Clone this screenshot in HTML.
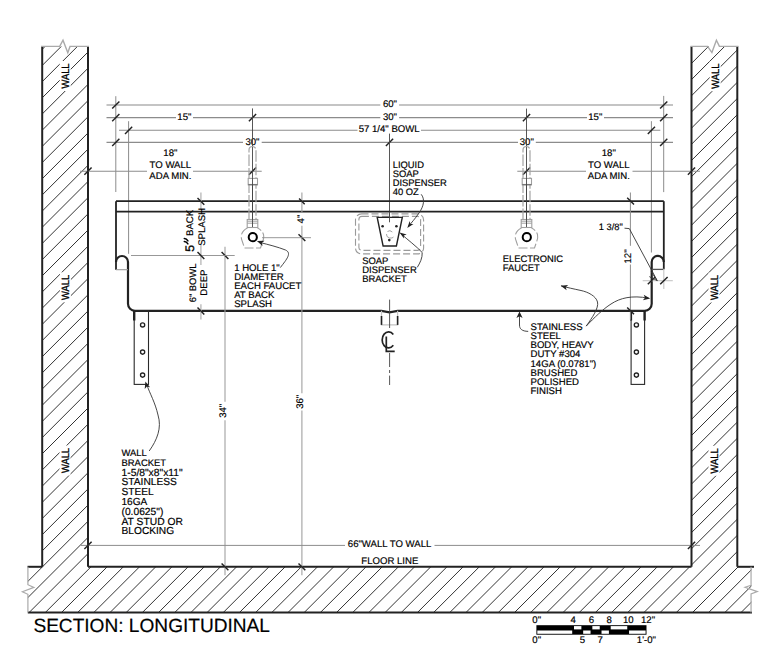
<!DOCTYPE html>
<html><head><meta charset="utf-8"><style>
html,body{margin:0;padding:0;background:#fff;}
svg{display:block;}
text{font-family:"Liberation Sans",sans-serif;text-rendering:geometricPrecision;fill:#000;stroke:#000;stroke-width:0.18px;}
</style></head><body>
<svg width="770" height="652" viewBox="0 0 770 652">
<rect width="770" height="652" fill="#fff"/>
<clipPath id="hc"><polygon points="42.2,46.4 88,46.4 88,566.8 691.5,566.8 691.5,46.4 737.3,46.4 737.3,566.8 751.5,566.8 751.5,612.2 27.8,612.2 27.8,566.8 42.2,566.8"/></clipPath>
<g clip-path="url(#hc)" stroke="#333" stroke-width="1">
<line x1="-689.40" y1="700" x2="10.60" y2="0"/>
<line x1="-673.22" y1="700" x2="26.78" y2="0"/>
<line x1="-657.04" y1="700" x2="42.96" y2="0"/>
<line x1="-640.86" y1="700" x2="59.14" y2="0"/>
<line x1="-624.68" y1="700" x2="75.32" y2="0"/>
<line x1="-608.50" y1="700" x2="91.50" y2="0"/>
<line x1="-592.32" y1="700" x2="107.68" y2="0"/>
<line x1="-576.14" y1="700" x2="123.86" y2="0"/>
<line x1="-559.96" y1="700" x2="140.04" y2="0"/>
<line x1="-543.78" y1="700" x2="156.22" y2="0"/>
<line x1="-527.60" y1="700" x2="172.40" y2="0"/>
<line x1="-511.42" y1="700" x2="188.58" y2="0"/>
<line x1="-495.24" y1="700" x2="204.76" y2="0"/>
<line x1="-479.06" y1="700" x2="220.94" y2="0"/>
<line x1="-462.88" y1="700" x2="237.12" y2="0"/>
<line x1="-446.70" y1="700" x2="253.30" y2="0"/>
<line x1="-430.52" y1="700" x2="269.48" y2="0"/>
<line x1="-414.34" y1="700" x2="285.66" y2="0"/>
<line x1="-398.16" y1="700" x2="301.84" y2="0"/>
<line x1="-381.98" y1="700" x2="318.02" y2="0"/>
<line x1="-365.80" y1="700" x2="334.20" y2="0"/>
<line x1="-349.62" y1="700" x2="350.38" y2="0"/>
<line x1="-333.44" y1="700" x2="366.56" y2="0"/>
<line x1="-317.26" y1="700" x2="382.74" y2="0"/>
<line x1="-301.08" y1="700" x2="398.92" y2="0"/>
<line x1="-284.90" y1="700" x2="415.10" y2="0"/>
<line x1="-268.72" y1="700" x2="431.28" y2="0"/>
<line x1="-252.54" y1="700" x2="447.46" y2="0"/>
<line x1="-236.36" y1="700" x2="463.64" y2="0"/>
<line x1="-220.18" y1="700" x2="479.82" y2="0"/>
<line x1="-204.00" y1="700" x2="496.00" y2="0"/>
<line x1="-187.82" y1="700" x2="512.18" y2="0"/>
<line x1="-171.64" y1="700" x2="528.36" y2="0"/>
<line x1="-155.46" y1="700" x2="544.54" y2="0"/>
<line x1="-139.28" y1="700" x2="560.72" y2="0"/>
<line x1="-123.10" y1="700" x2="576.90" y2="0"/>
<line x1="-106.92" y1="700" x2="593.08" y2="0"/>
<line x1="-90.74" y1="700" x2="609.26" y2="0"/>
<line x1="-74.56" y1="700" x2="625.44" y2="0"/>
<line x1="-58.38" y1="700" x2="641.62" y2="0"/>
<line x1="-42.20" y1="700" x2="657.80" y2="0"/>
<line x1="-26.02" y1="700" x2="673.98" y2="0"/>
<line x1="-9.84" y1="700" x2="690.16" y2="0"/>
<line x1="6.34" y1="700" x2="706.34" y2="0"/>
<line x1="22.52" y1="700" x2="722.52" y2="0"/>
<line x1="38.70" y1="700" x2="738.70" y2="0"/>
<line x1="54.88" y1="700" x2="754.88" y2="0"/>
<line x1="71.06" y1="700" x2="771.06" y2="0"/>
<line x1="87.24" y1="700" x2="787.24" y2="0"/>
<line x1="103.42" y1="700" x2="803.42" y2="0"/>
<line x1="119.60" y1="700" x2="819.60" y2="0"/>
<line x1="135.78" y1="700" x2="835.78" y2="0"/>
<line x1="151.96" y1="700" x2="851.96" y2="0"/>
<line x1="168.14" y1="700" x2="868.14" y2="0"/>
<line x1="184.32" y1="700" x2="884.32" y2="0"/>
<line x1="200.50" y1="700" x2="900.50" y2="0"/>
<line x1="216.68" y1="700" x2="916.68" y2="0"/>
<line x1="232.86" y1="700" x2="932.86" y2="0"/>
<line x1="249.04" y1="700" x2="949.04" y2="0"/>
<line x1="265.22" y1="700" x2="965.22" y2="0"/>
<line x1="281.40" y1="700" x2="981.40" y2="0"/>
<line x1="297.58" y1="700" x2="997.58" y2="0"/>
<line x1="313.76" y1="700" x2="1013.76" y2="0"/>
<line x1="329.94" y1="700" x2="1029.94" y2="0"/>
<line x1="346.12" y1="700" x2="1046.12" y2="0"/>
<line x1="362.30" y1="700" x2="1062.30" y2="0"/>
<line x1="378.48" y1="700" x2="1078.48" y2="0"/>
<line x1="394.66" y1="700" x2="1094.66" y2="0"/>
<line x1="410.84" y1="700" x2="1110.84" y2="0"/>
<line x1="427.02" y1="700" x2="1127.02" y2="0"/>
<line x1="443.20" y1="700" x2="1143.20" y2="0"/>
<line x1="459.38" y1="700" x2="1159.38" y2="0"/>
<line x1="475.56" y1="700" x2="1175.56" y2="0"/>
<line x1="491.74" y1="700" x2="1191.74" y2="0"/>
<line x1="507.92" y1="700" x2="1207.92" y2="0"/>
<line x1="524.10" y1="700" x2="1224.10" y2="0"/>
<line x1="540.28" y1="700" x2="1240.28" y2="0"/>
<line x1="556.46" y1="700" x2="1256.46" y2="0"/>
<line x1="572.64" y1="700" x2="1272.64" y2="0"/>
<line x1="588.82" y1="700" x2="1288.82" y2="0"/>
<line x1="605.00" y1="700" x2="1305.00" y2="0"/>
<line x1="621.18" y1="700" x2="1321.18" y2="0"/>
<line x1="637.36" y1="700" x2="1337.36" y2="0"/>
<line x1="653.54" y1="700" x2="1353.54" y2="0"/>
<line x1="669.72" y1="700" x2="1369.72" y2="0"/>
<line x1="685.90" y1="700" x2="1385.90" y2="0"/>
</g>
<rect x="59.69999999999999" y="61.0" width="11" height="30" fill="#fff"/>
<text transform="translate(65.19999999999999,76) rotate(-90) scale(1,1.13)" x="0" y="3.384" font-size="9.4" text-anchor="middle" style="stroke-width:0.25px">WALL</text>
<rect x="59.89999999999999" y="272.3" width="11" height="30" fill="#fff"/>
<text transform="translate(65.39999999999999,287.3) rotate(-90) scale(1,1.13)" x="0" y="3.384" font-size="9.4" text-anchor="middle" style="stroke-width:0.25px">WALL</text>
<rect x="59.5" y="445.5" width="11" height="30" fill="#fff"/>
<text transform="translate(65.0,460.5) rotate(-90) scale(1,1.13)" x="0" y="3.384" font-size="9.4" text-anchor="middle" style="stroke-width:0.25px">WALL</text>
<rect x="709.7" y="61.2" width="11" height="30" fill="#fff"/>
<text transform="translate(715.2,76.2) rotate(-90) scale(1,1.13)" x="0" y="3.384" font-size="9.4" text-anchor="middle" style="stroke-width:0.25px">WALL</text>
<rect x="708.5" y="272.5" width="11" height="30" fill="#fff"/>
<text transform="translate(714.0,287.5) rotate(-90) scale(1,1.13)" x="0" y="3.384" font-size="9.4" text-anchor="middle" style="stroke-width:0.25px">WALL</text>
<rect x="708.5" y="445.8" width="11" height="30" fill="#fff"/>
<text transform="translate(714.0,460.8) rotate(-90) scale(1,1.13)" x="0" y="3.384" font-size="9.4" text-anchor="middle" style="stroke-width:0.25px">WALL</text>
<line x1="42.2" y1="46.4" x2="42.2" y2="566.8" stroke="#222" stroke-width="2" />
<line x1="88" y1="46.4" x2="88" y2="566.8" stroke="#222" stroke-width="2" />
<line x1="691.5" y1="46.4" x2="691.5" y2="566.8" stroke="#222" stroke-width="2" />
<line x1="737.3" y1="46.4" x2="737.3" y2="566.8" stroke="#222" stroke-width="2" />
<polyline points="41,46.4 59.7,46.4 63,40.2 67.8,52.8 70,46.4 89,46.4" fill="none" stroke="#aaa" stroke-width="1.4"/>
<polyline points="690.5,46.4 707.6,46.4 711.9,52.6 716.4,40.2 719.4,46.4 738.5,46.4" fill="none" stroke="#aaa" stroke-width="1.4"/>
<line x1="27.5" y1="566.8" x2="42.2" y2="566.8" stroke="#222" stroke-width="2" />
<line x1="88" y1="566.8" x2="691.5" y2="566.8" stroke="#222" stroke-width="2" />
<line x1="737.3" y1="566.8" x2="754" y2="566.8" stroke="#222" stroke-width="2" />
<line x1="27.8" y1="612.5" x2="752" y2="612.5" stroke="#222" stroke-width="1.9" />
<polyline points="27.9,566.8 27.9,584.7 33.9,587.4 22.4,591.8 27.9,594.3 27.9,612.5" fill="none" stroke="#aaa" stroke-width="1.2"/>
<polyline points="751.05,566.8 751.05,585.4 745.1,587.2 757.3,591.6 751.05,593.9 751.05,612.5" fill="none" stroke="#aaa" stroke-width="1.2"/>
<line x1="115.8" y1="96.2" x2="115.8" y2="192" stroke="#8c8c8c" stroke-width="1" />
<line x1="128.6" y1="121.2" x2="128.6" y2="253.8" stroke="#8c8c8c" stroke-width="1" />
<line x1="663.7" y1="95.9" x2="663.7" y2="192.1" stroke="#8c8c8c" stroke-width="1" />
<line x1="651.4" y1="121.2" x2="651.4" y2="252.5" stroke="#8c8c8c" stroke-width="1" />
<line x1="106.5" y1="105" x2="380.3" y2="105" stroke="#c4c4c4" stroke-width="2" />
<line x1="399.1" y1="105" x2="673" y2="105" stroke="#c4c4c4" stroke-width="2" />
<line x1="112.2" y1="108.6" x2="119.39999999999999" y2="101.4" stroke="#222" stroke-width="1.45" />
<line x1="660.1" y1="108.6" x2="667.3000000000001" y2="101.4" stroke="#222" stroke-width="1.45" />
<text x="390" y="106.6" font-size="9.6" text-anchor="middle" >60&quot;</text>
<line x1="106.5" y1="117.6" x2="176" y2="117.6" stroke="#8c8c8c" stroke-width="1.1" />
<line x1="193" y1="117.6" x2="380.3" y2="117.6" stroke="#8c8c8c" stroke-width="1.1" />
<line x1="399.1" y1="117.6" x2="587" y2="117.6" stroke="#8c8c8c" stroke-width="1.1" />
<line x1="604" y1="117.6" x2="673" y2="117.6" stroke="#8c8c8c" stroke-width="1.1" />
<line x1="112.2" y1="121.19999999999999" x2="119.39999999999999" y2="114.0" stroke="#222" stroke-width="1.45" />
<line x1="248.9" y1="121.19999999999999" x2="256.1" y2="114.0" stroke="#222" stroke-width="1.45" />
<line x1="522.9" y1="121.19999999999999" x2="530.1" y2="114.0" stroke="#222" stroke-width="1.45" />
<line x1="660.1" y1="121.19999999999999" x2="667.3000000000001" y2="114.0" stroke="#222" stroke-width="1.45" />
<text x="184.4" y="119.9" font-size="9.6" text-anchor="middle" >15&quot;</text>
<text x="390" y="119.9" font-size="9.6" text-anchor="middle" >30&quot;</text>
<text x="595.3" y="119.9" font-size="9.6" text-anchor="middle" >15&quot;</text>
<line x1="119" y1="130.3" x2="357.5" y2="130.3" stroke="#8c8c8c" stroke-width="1.1" />
<line x1="421" y1="130.3" x2="660.3" y2="130.3" stroke="#8c8c8c" stroke-width="1.1" />
<line x1="125.0" y1="133.9" x2="132.2" y2="126.70000000000002" stroke="#222" stroke-width="1.45" />
<line x1="647.8" y1="133.9" x2="655.0" y2="126.70000000000002" stroke="#222" stroke-width="1.45" />
<text x="389.2" y="131.6" font-size="9.6" text-anchor="middle" >57 1/4&quot; BOWL</text>
<line x1="106.5" y1="142.4" x2="243" y2="142.4" stroke="#8c8c8c" stroke-width="1.1" />
<line x1="261.7" y1="142.4" x2="518" y2="142.4" stroke="#8c8c8c" stroke-width="1.1" />
<line x1="535.8" y1="142.4" x2="673" y2="142.4" stroke="#8c8c8c" stroke-width="1.1" />
<line x1="112.2" y1="146.0" x2="119.39999999999999" y2="138.8" stroke="#222" stroke-width="1.45" />
<line x1="385.9" y1="146.0" x2="393.1" y2="138.8" stroke="#222" stroke-width="1.45" />
<line x1="660.1" y1="146.0" x2="667.3000000000001" y2="138.8" stroke="#222" stroke-width="1.45" />
<text x="252.5" y="144.5" font-size="9.6" text-anchor="middle" >30&quot;</text>
<text x="526.8" y="144.5" font-size="9.6" text-anchor="middle" >30&quot;</text>
<line x1="80" y1="171.2" x2="147" y2="171.2" stroke="#8c8c8c" stroke-width="1.1" />
<line x1="193" y1="171.2" x2="261.7" y2="171.2" stroke="#8c8c8c" stroke-width="1.1" />
<line x1="84.4" y1="174.79999999999998" x2="91.6" y2="167.6" stroke="#222" stroke-width="1.45" />
<line x1="248.9" y1="174.79999999999998" x2="256.1" y2="167.6" stroke="#222" stroke-width="1.45" />
<line x1="517.3" y1="171.2" x2="586" y2="171.2" stroke="#8c8c8c" stroke-width="1.1" />
<line x1="632.5" y1="171.2" x2="700" y2="171.2" stroke="#8c8c8c" stroke-width="1.1" />
<line x1="522.9" y1="174.79999999999998" x2="530.1" y2="167.6" stroke="#222" stroke-width="1.45" />
<line x1="687.9" y1="174.79999999999998" x2="695.1" y2="167.6" stroke="#222" stroke-width="1.45" />
<text x="170.4" y="155.6" font-size="9.6" text-anchor="middle" >18&quot;</text>
<text x="170.4" y="167.6" font-size="9.6" text-anchor="middle" >TO WALL</text>
<text x="170.4" y="178.7" font-size="9.6" text-anchor="middle" >ADA MIN.</text>
<text x="608.8" y="155.6" font-size="9.6" text-anchor="middle" >18&quot;</text>
<text x="608.8" y="167.6" font-size="9.6" text-anchor="middle" >TO WALL</text>
<text x="608.8" y="178.7" font-size="9.6" text-anchor="middle" >ADA MIN.</text>
<line x1="252.5" y1="108.4" x2="252.5" y2="227" stroke="#444" stroke-width="0.9" />
<line x1="526.5" y1="108.6" x2="526.5" y2="227.3" stroke="#444" stroke-width="0.9" />
<line x1="389.5" y1="133.6" x2="389.5" y2="222.3" stroke="#444" stroke-width="0.9" />
<line x1="116" y1="201.2" x2="663.8" y2="201.2" stroke="#222" stroke-width="1.8" />
<line x1="116" y1="211.6" x2="663.8" y2="211.6" stroke="#222" stroke-width="1.8" />
<path d="M116,201.2 L116,269.7" stroke="#222" stroke-width="1.8" fill="none"/>
<path d="M663.8,201.2 L663.8,269.3" stroke="#222" stroke-width="1.8" fill="none"/>
<path d="M116,262 A6,6 0 0 1 128,262 L128,303.8 A7,7 0 0 0 135,310.8 L381.5,310.8 L389.5,312.3 L397.6,310.8 L644.7,310.8 A7,7 0 0 0 651.7,303.8 L651.7,262 A6,6 0 0 1 663.8,262" stroke="#222" stroke-width="2.2" fill="none"/>
<line x1="116" y1="269.7" x2="128" y2="269.7" stroke="#999" stroke-width="1.1" />
<line x1="651.7" y1="269.4" x2="663.8" y2="269.4" stroke="#555" stroke-width="1.3" />
<path d="M381.5,310.8 L381.5,324.9 L397.6,324.9 L397.6,310.8" stroke="#c4c4c4" stroke-width="1.2" fill="none"/>
<line x1="381.5" y1="316" x2="381.5" y2="324.9" stroke="#222" stroke-width="1.6" />
<line x1="397.6" y1="316" x2="397.6" y2="324.9" stroke="#222" stroke-width="1.6" />
<rect x="134.2" y="310.8" width="14.300000000000011" height="73.6" fill="none" stroke="#2a2a2a" stroke-width="1.1"/>
<line x1="134.2" y1="311" x2="134.2" y2="320.5" stroke="#222" stroke-width="2.4" />
<circle cx="142.6" cy="324.9" r="2.1" fill="none" stroke="#222" stroke-width="1.35"/>
<circle cx="142.6" cy="352.1" r="2.1" fill="none" stroke="#222" stroke-width="1.35"/>
<circle cx="142.6" cy="375.1" r="2.1" fill="none" stroke="#222" stroke-width="1.35"/>
<rect x="631.1" y="310.8" width="13.5" height="73.6" fill="none" stroke="#2a2a2a" stroke-width="1.1"/>
<line x1="644.6" y1="311" x2="644.6" y2="320.5" stroke="#222" stroke-width="2.4" />
<circle cx="636.4" cy="324.9" r="2.1" fill="none" stroke="#222" stroke-width="1.35"/>
<circle cx="636.4" cy="352.1" r="2.1" fill="none" stroke="#222" stroke-width="1.35"/>
<circle cx="636.4" cy="375.1" r="2.1" fill="none" stroke="#222" stroke-width="1.35"/>
<line x1="631.1" y1="311" x2="631.1" y2="320.5" stroke="#222" stroke-width="2.0" />
<line x1="389.6" y1="299.6" x2="389.6" y2="328" stroke="#444" stroke-width="0.9"/>
<line x1="389.6" y1="353" x2="389.6" y2="367" stroke="#444" stroke-width="0.9"/>
<line x1="389.6" y1="370" x2="389.6" y2="373" stroke="#444" stroke-width="0.9"/>
<line x1="389.6" y1="375.6" x2="389.6" y2="385" stroke="#444" stroke-width="0.9"/>
<path d="M393.3,334.5 A6.4,8 0 1 0 393.3,345.3" stroke="#222" stroke-width="1.7" fill="none"/>
<path d="M386.3,336.5 L386.3,351.3 L394.7,351.3" stroke="#222" stroke-width="1.7" fill="none"/>
<path d="M249.0,220 L249.0,150 A3.5,3.5 0 0 1 256.0,150 L256.0,220" stroke="#a4a4a4" stroke-width="1.2" fill="none" stroke-dasharray="11.5,2"/>
<rect x="248.2" y="178.4" width="9.3" height="6.4" fill="#fff" stroke="#a0a0a0" stroke-width="1.1"/>
<line x1="248.2" y1="184.6" x2="257.5" y2="184.6" stroke="#777" stroke-width="1.3" />
<rect x="247.2" y="219.5" width="10.6" height="8" fill="#fff" stroke="#a0a0a0" stroke-width="1.1"/>
<line x1="247.2" y1="221.2" x2="257.8" y2="221.2" stroke="#a0a0a0" stroke-width="1" />
<line x1="247.2" y1="223.2" x2="257.8" y2="223.2" stroke="#a0a0a0" stroke-width="1" />
<line x1="252.5" y1="178" x2="252.5" y2="227" stroke="#444" stroke-width="0.9" />
<path d="M247.5,228 Q243.0,230 241.5,234.5 Q240.9,238 242.0,240.5 L244.5,248 L260.5,248 L263.0,240.5 Q264.1,238 263.5,234.5 Q262.0,230 257.5,228" stroke="#a0a0a0" stroke-width="1.1" fill="none" stroke-dasharray="9,2.5"/>
<circle cx="252.8" cy="237.2" r="4.1" fill="#fff" stroke="#000" stroke-width="2.0"/>
<path d="M523.0,220 L523.0,150 A3.5,3.5 0 0 1 530.0,150 L530.0,220" stroke="#a4a4a4" stroke-width="1.2" fill="none" stroke-dasharray="11.5,2"/>
<rect x="522.2" y="178.4" width="9.3" height="6.4" fill="#fff" stroke="#a0a0a0" stroke-width="1.1"/>
<line x1="522.2" y1="184.6" x2="531.5" y2="184.6" stroke="#777" stroke-width="1.3" />
<rect x="521.2" y="219.5" width="10.6" height="8" fill="#fff" stroke="#a0a0a0" stroke-width="1.1"/>
<line x1="521.2" y1="221.2" x2="531.8" y2="221.2" stroke="#a0a0a0" stroke-width="1" />
<line x1="521.2" y1="223.2" x2="531.8" y2="223.2" stroke="#a0a0a0" stroke-width="1" />
<line x1="526.5" y1="178" x2="526.5" y2="227" stroke="#444" stroke-width="0.9" />
<path d="M521.5,228 Q517.0,230 515.5,234.5 Q514.9,238 516.0,240.5 L518.5,248 L534.5,248 L537.0,240.5 Q538.1,238 537.5,234.5 Q536.0,230 531.5,228" stroke="#a0a0a0" stroke-width="1.1" fill="none" stroke-dasharray="9,2.5"/>
<circle cx="526.8" cy="237.2" r="4.1" fill="#fff" stroke="#000" stroke-width="2.0"/>
<line x1="301.9" y1="192.5" x2="301.9" y2="212.3" stroke="#a0a0a0" stroke-width="1.1" />
<line x1="301.9" y1="225.7" x2="301.9" y2="393.2" stroke="#a0a0a0" stroke-width="1.1" />
<line x1="301.9" y1="410.4" x2="301.9" y2="575.3" stroke="#a0a0a0" stroke-width="1.1" />
<line x1="299.09999999999997" y1="198.6" x2="304.7" y2="204.20000000000002" stroke="#222" stroke-width="1.45" />
<line x1="298.5" y1="234.29999999999998" x2="305.29999999999995" y2="241.1" stroke="#222" stroke-width="1.45" />
<line x1="298.5" y1="563.4" x2="305.29999999999995" y2="570.1999999999999" stroke="#222" stroke-width="1.45" />
<line x1="262" y1="237.7" x2="311" y2="237.7" stroke="#8c8c8c" stroke-width="0.9" />
<text transform="translate(300.1,219) rotate(-90)" x="0" y="3.456" font-size="9.6" text-anchor="middle" style="">4&quot;</text>
<text transform="translate(299.6,401.8) rotate(-90)" x="0" y="3.456" font-size="9.6" text-anchor="middle" style="">36&quot;</text>
<line x1="225" y1="246.8" x2="225" y2="401.8" stroke="#a0a0a0" stroke-width="1.1" />
<line x1="225" y1="420.2" x2="225" y2="575.3" stroke="#a0a0a0" stroke-width="1.1" />
<line x1="221.6" y1="252.1" x2="228.4" y2="258.9" stroke="#222" stroke-width="1.45" />
<line x1="221.6" y1="563.4" x2="228.4" y2="570.1999999999999" stroke="#222" stroke-width="1.45" />
<text transform="translate(222.5,410.8) rotate(-90)" x="0" y="3.456" font-size="9.6" text-anchor="middle" style="">34&quot;</text>
<line x1="131" y1="255.5" x2="234.7" y2="255.5" stroke="#8c8c8c" stroke-width="0.9" />
<line x1="200.9" y1="192.5" x2="200.9" y2="209" stroke="#c4c4c4" stroke-width="1.6" />
<line x1="200.9" y1="245" x2="200.9" y2="265" stroke="#c4c4c4" stroke-width="1.6" />
<line x1="200.9" y1="304.2" x2="200.9" y2="319.6" stroke="#c4c4c4" stroke-width="1.6" />
<line x1="197.5" y1="198.0" x2="204.3" y2="204.8" stroke="#222" stroke-width="1.45" />
<line x1="197.5" y1="252.1" x2="204.3" y2="258.9" stroke="#222" stroke-width="1.45" />
<line x1="197.5" y1="307.6" x2="204.3" y2="314.4" stroke="#222" stroke-width="1.45" />
<text transform="translate(189.2,222.9) rotate(-90)" x="0" y="3.456" font-size="9.6" text-anchor="middle" style="">BACK</text>
<text transform="translate(202,226.9) rotate(-90)" x="0" y="3.456" font-size="9.6" text-anchor="middle" style="">SPLASH</text>
<g transform="translate(194.2,251.3) rotate(-90)"><text x="-0.5" y="0" font-size="12.4" style="stroke-width:0.35px">5</text></g>
<path d="M184.3,238.6 Q186.6,238.7 187.9,240.9 M184.3,241.6 Q186.6,241.8 187.9,243.9" stroke="#000" stroke-width="1.5" stroke-linecap="round" fill="none"/>
<text transform="translate(192.7,282.9) rotate(-90)" x="0" y="3.384" font-size="9.4" text-anchor="middle" style="">6&quot; BOWL</text>
<text transform="translate(204,282.6) rotate(-90)" x="0" y="3.456" font-size="9.6" text-anchor="middle" style="">DEEP</text>
<line x1="630.4" y1="192.5" x2="630.4" y2="245.8" stroke="#8c8c8c" stroke-width="1" />
<line x1="630.4" y1="264.5" x2="630.4" y2="319.8" stroke="#8c8c8c" stroke-width="1" />
<line x1="627.2" y1="197.7" x2="634.0" y2="204.5" stroke="#222" stroke-width="1.45" />
<line x1="627.2" y1="307.40000000000003" x2="634.0" y2="314.2" stroke="#222" stroke-width="1.45" />
<text transform="translate(627.9,256.5) rotate(-90)" x="0" y="3.456" font-size="9.6" text-anchor="middle" style="">12&quot;</text>
<line x1="642.7" y1="280.7" x2="672.8" y2="280.7" stroke="#c4c4c4" stroke-width="1.1" />
<line x1="663.8" y1="268.8" x2="663.8" y2="288.9" stroke="#c4c4c4" stroke-width="1.1" />
<line x1="647.8" y1="284.3" x2="655.2" y2="276.90000000000003" stroke="#222" stroke-width="1.45" />
<line x1="660.1999999999999" y1="284.3" x2="667.6" y2="276.90000000000003" stroke="#222" stroke-width="1.45" />
<text x="598.8" y="230.1" font-size="9.3" text-anchor="start" >1 3/8&quot;</text>
<line x1="81" y1="545.4" x2="345" y2="545.4" stroke="#8c8c8c" stroke-width="1" />
<line x1="434.5" y1="545.4" x2="700" y2="545.4" stroke="#8c8c8c" stroke-width="1" />
<line x1="84.4" y1="549.0" x2="91.6" y2="541.8" stroke="#222" stroke-width="1.45" />
<line x1="687.9" y1="549.0" x2="695.1" y2="541.8" stroke="#222" stroke-width="1.45" />
<text x="389.6" y="546.8" font-size="9.6" text-anchor="middle" >66&quot;WALL TO WALL</text>
<text x="389.8" y="564.3" font-size="9.6" text-anchor="middle" >FLOOR LINE</text>
<rect x="355.5" y="213.9" width="68.1" height="40" rx="6" fill="none" stroke="#9a9a9a" stroke-width="1.1" stroke-dasharray="7,3"/>
<rect x="358.9" y="216.4" width="61.7" height="34" rx="3" fill="none" stroke="#9a9a9a" stroke-width="1.1" stroke-dasharray="7,3"/>
<path d="M377.2,217.4 L402.3,217.4 L396.4,246 L383.1,246 Z" fill="#fff" stroke="#222" stroke-width="1.4"/>
<circle cx="382.6" cy="226.3" r="1.3" fill="#222"/>
<circle cx="396.4" cy="226.3" r="1.3" fill="#222"/>
<circle cx="389.3" cy="240.1" r="1.3" fill="#222"/>
<path d="M387.5,231.5 Q390,229.5 392.3,232 M386.5,234 Q386,237 389.5,238 Q392.5,238.5 393.5,237" stroke="#999" stroke-width="0.9" fill="none"/>
<line x1="389.5" y1="211.6" x2="389.5" y2="222.3" stroke="#444" stroke-width="0.9" />
<text x="392.7" y="168.1" font-size="9.4" text-anchor="start" >LIQUID</text>
<text x="392.7" y="177.0" font-size="9.4" text-anchor="start" >SOAP</text>
<text x="392.7" y="185.9" font-size="9.4" text-anchor="start" >DISPENSER</text>
<text x="392.7" y="194.8" font-size="9.4" text-anchor="start" >40 OZ</text>
<text x="362.2" y="264.0" font-size="9.45" text-anchor="start" >SOAP</text>
<text x="362.2" y="273.05" font-size="9.45" text-anchor="start" >DISPENSER</text>
<text x="362.2" y="282.1" font-size="9.45" text-anchor="start" >BRACKET</text>
<text x="234.2" y="270.9" font-size="9.6" text-anchor="start" >1 HOLE 1&quot;</text>
<text x="234.2" y="280.0" font-size="9.6" text-anchor="start" >DIAMETER</text>
<text x="234.2" y="289.1" font-size="9.6" text-anchor="start" >EACH FAUCET</text>
<text x="234.2" y="298.2" font-size="9.6" text-anchor="start" >AT BACK</text>
<text x="234.2" y="307.3" font-size="9.6" text-anchor="start" >SPLASH</text>
<text x="502.7" y="262.1" font-size="9.4" text-anchor="start" >ELECTRONIC</text>
<text x="502.7" y="270.5" font-size="9.4" text-anchor="start" >FAUCET</text>
<text x="121.5" y="456.0" font-size="9.45" text-anchor="start" >WALL</text>
<text x="121.5" y="465.8" font-size="9.45" text-anchor="start" >BRACKET</text>
<text x="121.5" y="475.6" font-size="10.3" text-anchor="start" >1-5/8&quot;x8&quot;x11&quot;</text>
<text x="121.5" y="485.4" font-size="10.2" text-anchor="start" >STAINLESS</text>
<text x="121.5" y="495.2" font-size="10.2" text-anchor="start" >STEEL</text>
<text x="121.5" y="505.0" font-size="10.1" text-anchor="start" >16GA</text>
<text x="121.5" y="514.8" font-size="10.25" text-anchor="start" >(0.0625&quot;)</text>
<text x="121.5" y="524.6" font-size="10.3" text-anchor="start" >AT STUD OR</text>
<text x="121.5" y="534.4" font-size="10.2" text-anchor="start" >BLOCKING</text>
<text x="530.5" y="330.4" font-size="9.6" text-anchor="start" >STAINLESS</text>
<text x="530.5" y="339.43" font-size="9.6" text-anchor="start" >STEEL</text>
<text x="530.5" y="348.46" font-size="9.6" text-anchor="start" >BODY, HEAVY</text>
<text x="530.5" y="357.49" font-size="9.6" text-anchor="start" >DUTY #304</text>
<text x="530.5" y="366.52" font-size="9.6" text-anchor="start" >14GA (0.0781&quot;)</text>
<text x="530.5" y="375.55" font-size="9.6" text-anchor="start" >BRUSHED</text>
<text x="530.5" y="384.58" font-size="9.6" text-anchor="start" >POLISHED</text>
<text x="530.5" y="393.61" font-size="9.6" text-anchor="start" >FINISH</text>
<path d="M280.3,267.6 C287,259 292,253 285.5,250 C278,247 268,244.5 260,242.5" stroke="#333" stroke-width="0.9" fill="none"/>
<path d="M256.90,241.10 L264.44,240.86 L261.79,242.88 L262.52,246.12 Z" fill="#222"/>
<path d="M421.2,194.3 C425,199 424,206 419,213 C415,219 411,223 408.5,226.5" stroke="#333" stroke-width="0.9" fill="none"/>
<path d="M407.30,228.10 L409.67,221.09 L410.47,223.98 L413.47,224.02 Z" fill="#222"/>
<path d="M417.3,267.3 C420,263 422.5,258 422.2,252.5 C416,246 408,240 400.5,233.4" stroke="#333" stroke-width="0.9" fill="none"/>
<path d="M399.60,232.40 L406.69,234.50 L403.84,235.42 L403.91,238.41 Z" fill="#222"/>
<path d="M149.2,451 C157,440 162,428 158,415 C155,402 150,394 146.5,384" stroke="#333" stroke-width="0.9" fill="none"/>
<path d="M145.40,381.40 L150.07,387.32 L146.87,386.39 L144.70,388.91 Z" fill="#222"/>
<path d="M528.2,331.4 C522,331.2 519.5,329 519.5,325 L519.5,314" stroke="#333" stroke-width="0.9" fill="none"/>
<path d="M519.50,311.60 L522.60,318.10 L519.50,316.30 L516.40,318.10 Z" fill="#222"/>
<path d="M586.2,326.1 C592,318 599,308 597.5,302 C596,296 588,292 581,290.5 C574,289 567,287.5 561,285.8" stroke="#333" stroke-width="0.9" fill="none"/>
<path d="M560.70,285.70 L568.20,284.93 L565.70,287.13 L566.66,290.32 Z" fill="#222"/>
<path d="M586.2,326.1 C594,318 603,309 611,304 C620,298 632,295 648.5,298.2" stroke="#333" stroke-width="0.9" fill="none"/>
<path d="M650.20,298.60 L642.86,300.34 L645.06,297.83 L643.69,294.80 Z" fill="#222"/>
<path d="M624.5,228.2 L629.3,228.6 L657.2,280.6" stroke="#333" stroke-width="0.9" fill="none"/>
<path d="M651.2,271.8 L657.2,280.6 L649.3,276.6" fill="none" stroke="#333" stroke-width="0.9"/>
<rect x="536.4" y="625.2" width="110.10" height="9.50" fill="#000"/>
<rect x="537.30" y="630.5" width="34.90" height="3.3" fill="#fff"/>
<rect x="574.00" y="626.1" width="7.38" height="3.3" fill="#fff"/>
<rect x="583.17" y="630.5" width="7.38" height="3.3" fill="#fff"/>
<rect x="592.35" y="626.1" width="7.38" height="3.3" fill="#fff"/>
<rect x="601.52" y="630.5" width="7.38" height="3.3" fill="#fff"/>
<rect x="610.70" y="626.1" width="16.55" height="3.3" fill="#fff"/>
<rect x="629.05" y="630.5" width="16.55" height="3.3" fill="#fff"/>
<text x="532.3" y="622.8" font-size="9.6" text-anchor="start" >0&quot;</text>
<text x="573.2" y="622.8" font-size="9.6" text-anchor="middle" >4</text>
<text x="591.4" y="622.8" font-size="9.6" text-anchor="middle" >6</text>
<text x="609.2" y="622.8" font-size="9.6" text-anchor="middle" >8</text>
<text x="628.3" y="622.8" font-size="9.6" text-anchor="middle" >10</text>
<text x="641" y="622.8" font-size="9.6" text-anchor="start" >12&quot;</text>
<text x="532.3" y="643.2" font-size="9.6" text-anchor="start" >0&quot;</text>
<text x="582.3" y="643.2" font-size="9.6" text-anchor="middle" >5</text>
<text x="600.1" y="643.2" font-size="9.6" text-anchor="middle" >7</text>
<text x="636.8" y="643.2" font-size="9.6" text-anchor="start" >1'-0&quot;</text>
<text x="33.4" y="632.3" font-size="19.1" text-anchor="start" >SECTION: LONGITUDINAL</text>
</svg>
</body></html>
